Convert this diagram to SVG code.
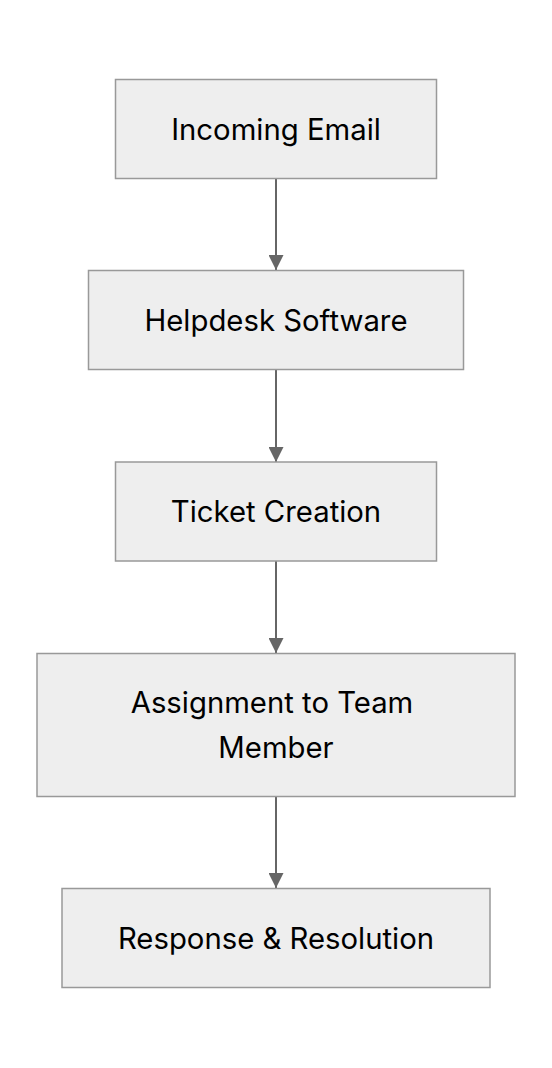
<svg xmlns="http://www.w3.org/2000/svg" width="552" height="1068" viewBox="0 0 552 1068">
<style>
.node rect{fill:#eeeeee;stroke:#999999;stroke-width:1.5}
.node text{font-family:Inter,"Noto Sans","Liberation Sans",sans-serif;font-size:29.3px;fill:#000;text-anchor:middle}
.edge{stroke:#666666;stroke-width:2;fill:none}
</style>
<defs>
<marker id="arrow" viewBox="0 0 10 10" refX="10" refY="5" markerUnits="userSpaceOnUse" markerWidth="15" markerHeight="15" orient="auto">
<path d="M0,0 L10,5 L0,10 z" fill="#666666"/>
</marker>
</defs>
<rect width="552" height="1068" fill="#ffffff"/>
<g id="connectors">
<line class="edge" x1="276" y1="179" x2="276" y2="270" marker-end="url(#arrow)"/>
<line class="edge" x1="276" y1="370" x2="276" y2="462" marker-end="url(#arrow)"/>
<line class="edge" x1="276" y1="561" x2="276" y2="653" marker-end="url(#arrow)"/>
<line class="edge" x1="276" y1="797" x2="276" y2="888" marker-end="url(#arrow)"/>
</g>
<g id="node-incoming-email" class="node">
<rect x="115.5" y="79.5" width="321" height="99"/>
<text x="276" y="139.5">Incoming Email</text>
</g>
<g id="node-helpdesk-software" class="node">
<rect x="88.5" y="270.5" width="375" height="99"/>
<text x="276" y="331">Helpdesk Software</text>
</g>
<g id="node-ticket-creation" class="node">
<rect x="115.5" y="462" width="321" height="99"/>
<text x="276" y="521.5">Ticket Creation</text>
</g>
<g id="node-assignment" class="node">
<rect x="37" y="653.5" width="478" height="143"/>
<text x="272" y="712.5">Assignment to Team</text>
<text x="276" y="757.5">Member</text>
</g>
<g id="node-response" class="node">
<rect x="62" y="888.5" width="428" height="99"/>
<text x="276" y="948.5">Response &amp; Resolution</text>
</g>
</svg>
